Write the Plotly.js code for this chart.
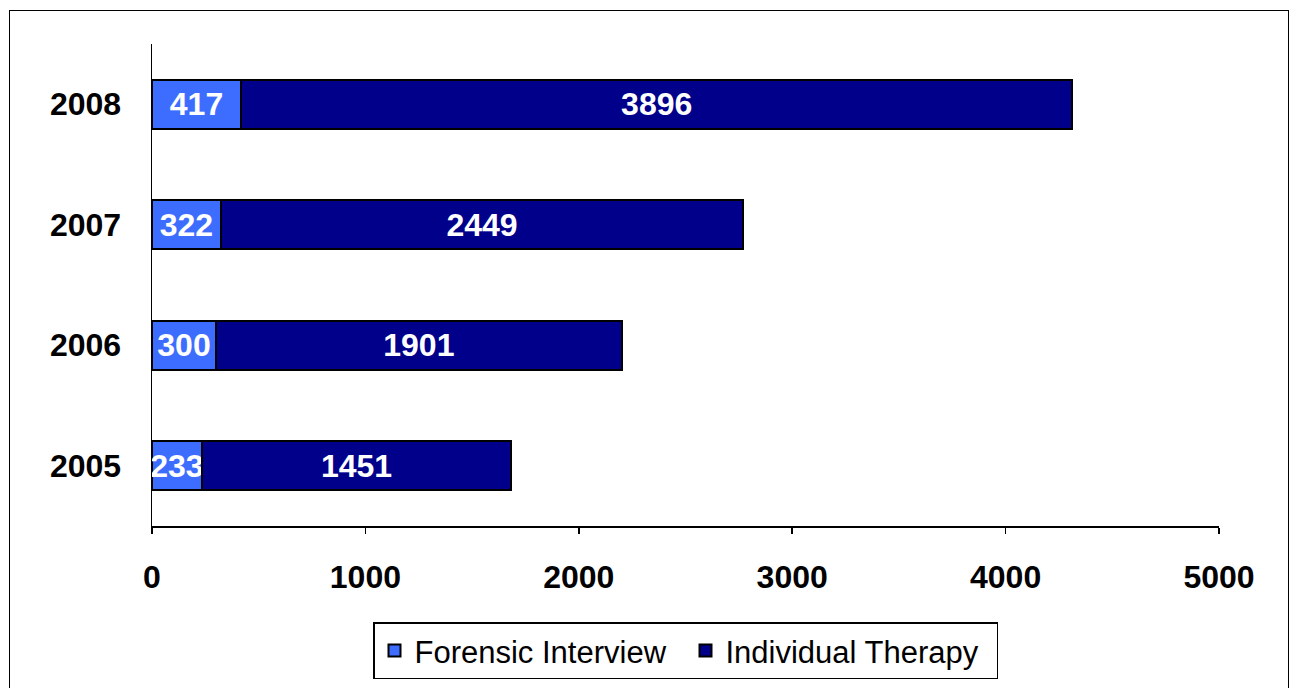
<!DOCTYPE html>
<html><head><meta charset="utf-8">
<script src="https://cdn.plot.ly/plotly-3.0.1.min.js"></script>
<style>
html,body{margin:0;padding:0;background:#fff;}
#chart{width:1290px;height:688px;position:absolute;left:0;top:0;}
#frame{position:absolute;left:9px;top:10px;width:1280px;height:700px;border:1.5px solid #000;box-sizing:border-box;pointer-events:none;}
</style></head>
<body>
<div id="chart"></div>
<div id="frame"></div>
<script>
const years = ['2005', '2006', '2007', '2008'];
const forensicInterview = [233, 300, 322, 417];
const individualTherapy = [1451, 1901, 2449, 3896];
const xTicks = [0, 1000, 2000, 3000, 4000, 5000];

const common = {
  type: 'bar', orientation: 'h', y: years, width: 0.41,
  textposition: 'inside', insidetextanchor: 'middle', constraintext: 'none',
  textfont: {family: 'Liberation Sans, Arial, sans-serif', size: 32, color: '#ffffff', weight: 'bold'},
  cliponaxis: false, hoverinfo: 'none'
};
const traces = [
  Object.assign({}, common, {name: 'Forensic Interview', x: forensicInterview, text: forensicInterview.map(String),
    marker: {color: '#3d6dff', line: {color: '#000', width: 2}}}),
  Object.assign({}, common, {name: 'Individual Therapy', x: individualTherapy, text: individualTherapy.map(String),
    marker: {color: '#00008b', line: {color: '#000', width: 2}}})
];
const layout = {
  width: 1290, height: 688, barmode: 'stack',
  margin: {l: 152, r: 71, t: 44, b: 162, autoexpand: false},
  paper_bgcolor: '#fff', plot_bgcolor: '#fff',
  font: {family: 'Liberation Sans, Arial, sans-serif', color: '#000'},
  xaxis: {range: [0, 5000], tickvals: xTicks, ticktext: xTicks.map(String), showgrid: false, zeroline: false,
    showline: true, linecolor: '#000', linewidth: 1.5, ticks: 'outside', ticklen: 6, tickcolor: '#000', tickwidth: 1.5,
    tickfont: {size: 32, weight: 'bold'}, ticklabelstandoff: 16, fixedrange: true},
  yaxis: {type: 'category', categoryorder: 'array', categoryarray: years, range: [-0.5, 3.5],
    showgrid: false, zeroline: false, showline: true, linecolor: '#000', linewidth: 1.5,
    ticks: '', tickfont: {size: 32, weight: 'bold'}, ticklabelstandoff: 23, fixedrange: true},
  showlegend: true,
  legend: {orientation: 'h', x: 0.5, xanchor: 'center', y: -0.2, yanchor: 'top',
    bordercolor: '#000', borderwidth: 1.5, bgcolor: '#fff',
    font: {size: 31, family: 'Liberation Sans, Arial, sans-serif'}, traceorder: 'normal',
    itemwidth: 30, entrywidth: 266, entrywidthmode: 'pixels'}
};
Plotly.newPlot('chart', traces, layout, {displayModeBar: false, staticPlot: true});
</script>
</body></html>
